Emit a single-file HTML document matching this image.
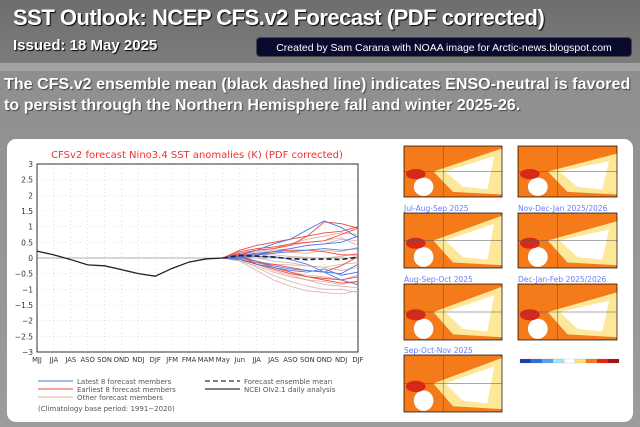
<!DOCTYPE html>
<html><head><meta charset="utf-8"><style>
*{margin:0;padding:0;box-sizing:border-box}
body{width:640px;height:427px;overflow:hidden;background:linear-gradient(#8c8c8c,#9c9c9c);font-family:"Liberation Sans",sans-serif;position:relative}
#hdr{position:absolute;left:0;top:0;width:640px;height:63px;background:linear-gradient(#6e6e6e,#7c7c7c)}
#stripe{position:absolute;left:0;top:63px;width:640px;height:8px;background:#a3a3a3}
.t{position:absolute;color:#fff;font-weight:bold;text-shadow:1px 1px 1px #000;white-space:nowrap}
#credit{position:absolute;left:256px;top:37px;width:376px;height:20px;background:#0a0a2e;border-radius:4px;color:#fff;font-size:10.5px;text-align:center;line-height:20px;border:1px solid #444}
#panel{position:absolute;left:7px;top:139px;width:626px;height:283px;background:#fff;border-radius:9px}
svg{position:absolute;left:0;top:0}
</style></head><body>
<div id="hdr"></div>
<div id="stripe"></div>
<div class="t" style="left:13px;top:5px;font-size:22px;letter-spacing:-0.5px">SST Outlook: NCEP CFS.v2 Forecast (PDF corrected)</div>
<div class="t" style="left:13px;top:37px;font-size:15px">Issued: 18 May 2025</div>
<div id="credit">Created by Sam Carana with NOAA image for Arctic-news.blogspot.com</div>
<div class="t" style="left:4px;top:74px;font-size:16px;letter-spacing:0.05px;line-height:21px;text-shadow:1px 1px 1px #444">The CFS.v2 ensemble mean (black dashed line) indicates ENSO-neutral is favored<br>to persist through the Northern Hemisphere fall and winter 2025-26.</div>
<div id="panel"></div>
<svg id="chart" width="640" height="427" font-family="DejaVu Sans, sans-serif"></svg>
<script>
const cats=["MJJ","JJA","JAS","ASO","SON","OND","NDJ","DJF","JFM","FMA","MAM","May","Jun","JJA","JAS","ASO","SON","OND","NDJ","DJF"];
const yTicks=[3,2.5,2,1.5,1,0.5,0,-0.5,-1,-1.5,-2,-2.5,-3];
const analysis=[0.22,0.1,-0.05,-0.22,-0.25,-0.37,-0.5,-0.58,-0.33,-0.13,-0.03,0];
const ensMean=[0,0.08,0.06,0.03,-0.02,-0.05,-0.03,-0.05,0.03];
const latest=[[0,0.1,0.25,0.45,0.6,0.9,1.18,0.98,0.65],[0,0.05,0.1,0.15,0.2,0.25,0.3,0.25,0.3],[0,0,-0.1,-0.25,-0.35,-0.4,-0.45,-0.5,-0.2],[0,0.05,0.15,0.2,0.3,0.4,0.45,0.5,0.7],[0,-0.05,-0.2,-0.3,-0.4,-0.45,-0.35,-0.55,-0.45],[0,0.02,0.05,0.05,-0.05,-0.2,-0.45,-0.7,-0.85]];
const earliest=[[0,0.25,0.4,0.5,0.6,0.7,0.8,0.85,1.0],[0,0.2,0.3,0.35,0.45,0.5,0.55,0.75,0.95],[0,0.1,-0.2,-0.35,-0.5,-0.6,-0.7,-0.8,-0.75],[0,0.15,0.25,0.3,0.4,0.7,1.15,1.1,0.95],[0,-0.05,-0.15,-0.2,-0.3,-0.4,-0.45,-0.25,0.05],[0,0.12,0.1,0.2,0.25,0.25,0.2,0.1,0.1],[0,0.05,-0.1,-0.3,-0.45,-0.6,-0.65,-0.7,-0.6]];
const others=[[0,0.05,0.2,0.3,0.45,0.6,0.7,0.8,0.75],[0,-0.1,-0.4,-0.7,-0.9,-1.05,-1.1,-1.15,-1.05],[0,-0.05,-0.3,-0.55,-0.75,-0.9,-1.0,-1.0,-1.1],[0,0.1,0.15,0.25,0.3,0.4,0.45,0.6,0.55],[0,0,-0.15,-0.3,-0.45,-0.55,-0.6,-0.7,-0.55],[0,0.05,0.1,0.1,0.05,0.02,0,0.05,0.15],[0,-0.05,-0.2,-0.4,-0.55,-0.7,-0.85,-0.9,-0.95],[0,0.1,0.2,0.3,0.4,0.5,0.55,0.65,0.4],[0,-0.1,-0.25,-0.45,-0.6,-0.7,-0.75,-0.85,-0.75],[0,0.02,0,-0.1,-0.15,-0.25,-0.3,-0.4,-0.3],[0,0.08,0.12,0.2,0.18,0.15,0.25,0.2,0.35],[0,-0.02,-0.1,-0.2,-0.22,-0.25,-0.3,-0.2,-0.15]];
const mapTitles=["","","Jul-Aug-Sep 2025","Nov-Dec-Jan 2025/2026","Aug-Sep-Oct 2025","Dec-Jan-Feb 2025/2026","Sep-Oct-Nov 2025"];
const NS="http://www.w3.org/2000/svg";
const svg=document.getElementById('chart');
function mk(tag,attrs,parent){const e=document.createElementNS(NS,tag);for(const k in attrs)e.setAttribute(k,attrs[k]);(parent||svg).appendChild(e);return e;}
const X0=37,X1=358,Y0=164,Y1=352;
const xs=i=>X0+i*(X1-X0)/(cats.length-1);
const ys=v=>Y0+(3-v)*(Y1-Y0)/6;
let t=mk('text',{x:197,y:158,'font-size':10,fill:'#f03030','text-anchor':'middle'});
t.textContent="CFSv2 forecast Nino3.4 SST anomalies (K) (PDF corrected)";


yTicks.forEach(v=>{const l=mk('line',{x1:X0,x2:X1,y1:ys(v),y2:ys(v),stroke:'#ccc','stroke-width':0.6,'stroke-dasharray':'1,3'});


const tx=mk('text',{x:X0-4,y:ys(v)+3,'font-size':7.5,fill:'#333','text-anchor':'end'});tx.textContent=String(v).replace('-','−');

});
cats.forEach((c,i)=>{const l=mk('line',{x1:xs(i),x2:xs(i),y1:Y0,y2:Y1,stroke:'#ccc','stroke-width':0.6,'stroke-dasharray':'1,3'});


const tx=mk('text',{x:xs(i),y:Y1+10,'font-size':6.8,fill:'#333','text-anchor':'middle'});tx.textContent=c;

});
const fr=mk('rect',{x:X0,y:Y0,width:X1-X0,height:Y1-Y0,fill:'none',stroke:'#000','stroke-width':0.8});


const zl=mk('line',{x1:X0,x2:X1,y1:ys(0),y2:ys(0),stroke:'#666','stroke-width':0.6});


function line(vals,start,attrs,name){const p=mk('polyline',Object.assign({fill:'none',points:vals.map((v,i)=>xs(start+i)+','+ys(v)).join(' ')},attrs));

}
others.forEach(s=>line(s,11,{stroke:'#d9b0a8','stroke-width':0.8},'other-member-line'));
earliest.forEach(s=>line(s,11,{stroke:'#f04a3a','stroke-width':0.9},'earliest-member-line'));
latest.forEach(s=>line(s,11,{stroke:'#4a7ae8','stroke-width':0.9},'latest-member-line'));
line(analysis,0,{stroke:'#222','stroke-width':1.3},'analysis-line');
line(ensMean,11,{stroke:'#222','stroke-width':1.6,'stroke-dasharray':'5,3'},'ensemble-mean-line');
const leg=[[38,383,'#4a7ae8','Latest 8 forecast members'],[38,391,'#f04a3a','Earliest 8 forecast members'],[38,399,'#d9b0a8','Other forecast members']];
leg.forEach(r=>{const l=mk('line',{x1:r[0],x2:r[0]+35,y1:r[1]-2,y2:r[1]-2,stroke:r[2],'stroke-width':1});


const tx=mk('text',{x:r[0]+39,y:r[1]+1,'font-size':7,fill:'#555'});tx.textContent=r[3];

});
[[205,383,'5,3','Forecast ensemble mean'],[205,391,'','NCEI OIv2.1 daily analysis']].forEach(r=>{const l=mk('line',{x1:r[0],x2:r[0]+35,y1:r[1]-2,y2:r[1]-2,stroke:'#333','stroke-width':1.3,'stroke-dasharray':r[2]});


const tx=mk('text',{x:r[0]+39,y:r[1]+1,'font-size':7,fill:'#555'});tx.textContent=r[3];

});
t=mk('text',{x:38,y:411,'font-size':7,fill:'#555'});t.textContent="(Climatology base period: 1991−2020)";


const boxes=[[404,146,98,51],[518,146,99,51],[404,213,98,55],[518,213,99,55],[404,284,98,56],[518,284,99,56],[404,355,98,57]];
boxes.forEach((b,k)=>{const g=mk('g',{});


const [x,y,w,h]=b;
mk('rect',{x:x,y:y,width:w,height:h,fill:'#f47a1a'},g);
const right=k%2==1&&k<6;
mk('polygon',{points:`${x+w*0.3},${y+h*0.5} ${x+w},${y+h*(right?0.15:0.05)} ${x+w},${y+h*0.95} ${x+w*0.5},${y+h*0.9}`,fill:'#fde89a'},g);
mk('polygon',{points:`${x+w*0.42},${y+h*0.5} ${x+w*0.92},${y+h*(right?0.3:0.2)} ${x+w*0.85},${y+h*0.85} ${x+w*0.6},${y+h*0.8}`,fill:'#fff'},g);
mk('ellipse',{cx:x+w*0.2,cy:y+h*0.8,rx:w*0.1,ry:h*0.18,fill:'#fff'},g);
mk('ellipse',{cx:x+w*0.12,cy:y+h*0.55,rx:w*0.1,ry:h*0.1,fill:'#d8281a'},g);
mk('line',{x1:x,x2:x+w,y1:y+h*0.5,y2:y+h*0.5,stroke:'#555','stroke-width':0.5},g);
mk('line',{x1:x+w*0.4,x2:x+w*0.4,y1:y,y2:y+h,stroke:'#555','stroke-width':0.5},g);
mk('rect',{x:x,y:y,width:w,height:h,fill:'none',stroke:'#000','stroke-width':0.7},g);
if(mapTitles[k]){const tx=mk('text',{x:x,y:y-2,'font-size':7.5,fill:'#6a7aff'},g);tx.textContent=mapTitles[k];}
});
const cb=['#1a3ab8','#2a6ed8','#5aa0ee','#a8e4f4','#fff','#fde07a','#f47a1a','#e8200e','#a80c0c'];
cb.forEach((c,i)=>{const r=mk('rect',{x:520+i*11,y:359,width:11,height:4,fill:c,stroke:'#888','stroke-width':0.2});

});
</script>
</body></html>
